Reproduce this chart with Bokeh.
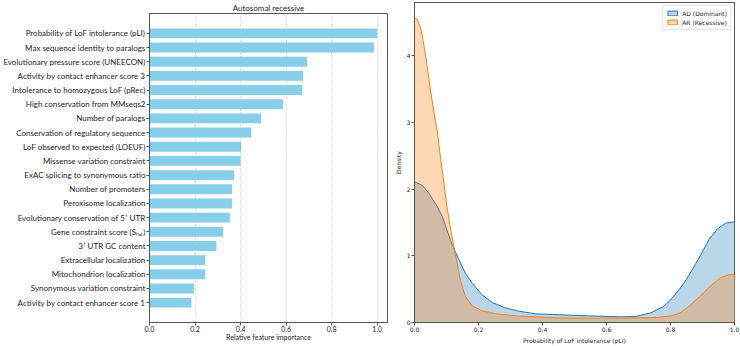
from bokeh.plotting import figure
from bokeh.models import (Range1d, FactorRange, FixedTicker, NumeralTickFormatter,
                          Legend, LegendItem)
from bokeh.core.templates import FILE
from bokeh.embed import file_html
from bokeh.resources import INLINE

# Feature importance for the autosomal recessive model (top to bottom)
features = [
    "Probability of LoF intolerance (pLI)",
    "Max sequence identity to paralogs",
    "Evolutionary pressure score (UNEECON)",
    "Activity by contact enhancer score 3",
    "Intolerance to homozygous LoF (pRec)",
    "High conservation from MMseqs2",
    "Number of paralogs",
    "Conservation of regulatory sequence",
    "LoF observed to expected (LOEUF)",
    "Missense variation constraint",
    "ExAC splicing to synonymous ratio",
    "Number of promoters",
    "Peroxisome localization",
    "Evolutionary conservation of 5\u2032 UTR",
    "Gene constraint score (S\u2095\u2091\u209c)",
    "3\u2032 UTR GC content",
    "Extracellular localization",
    "Mitochondrion localization",
    "Synonymous variation constraint",
    "Activity by contact enhancer score 1",
]
importance = [1.00, 0.985, 0.692, 0.675, 0.671, 0.586, 0.490, 0.447, 0.403, 0.400,
              0.371, 0.363, 0.362, 0.353, 0.324, 0.294, 0.245, 0.245, 0.195, 0.184]

importance_ticks = [0.0, 0.2, 0.4, 0.6, 0.8, 1.0]

# Density of pLI for dominant (AD) and recessive (AR) genes
pli_ad = [0.000, 0.024, 0.045, 0.071, 0.087, 0.097, 0.118, 0.139, 0.159, 0.180,
          0.210, 0.243, 0.284, 0.326, 0.378, 0.435, 0.540, 0.644, 0.690, 0.738,
          0.779, 0.810, 0.842, 0.868, 0.894, 0.920, 0.946, 0.972, 1.000]
density_ad = [2.11, 2.06, 1.94, 1.74, 1.59, 1.45, 1.16, 0.94, 0.74, 0.59,
              0.42, 0.30, 0.22, 0.17, 0.13, 0.12, 0.10, 0.085, 0.09, 0.145,
              0.24, 0.39, 0.59, 0.79, 1.01, 1.24, 1.40, 1.49, 1.51]

pli_ar = [0.000, 0.008, 0.019, 0.029, 0.040, 0.050, 0.060, 0.071, 0.081, 0.092,
          0.102, 0.112, 0.123, 0.133, 0.144, 0.159, 0.180, 0.210, 0.253, 0.316,
          0.378, 0.435, 0.540, 0.644, 0.748, 0.800, 0.831, 0.862, 0.894, 0.925,
          0.956, 0.982, 1.000]
density_ar = [4.57, 4.55, 4.42, 4.17, 3.83, 3.48, 3.18, 2.88, 2.48, 2.09,
              1.72, 1.42, 1.14, 0.89, 0.62, 0.39, 0.25, 0.18, 0.13, 0.10,
              0.085, 0.07, 0.065, 0.065, 0.075, 0.095, 0.145, 0.26, 0.40, 0.55,
              0.67, 0.72, 0.72]

density_ticks = [0, 1, 2, 3, 4]
pli_ticks = [0.0, 0.2, 0.4, 0.6, 0.8, 1.0]

FONT_L = "Lato"
FONT_R = "DejaVu Sans"
FRAME = "#555555"
TEXT = "#222222"

# ---------- left panel: horizontal bar chart ----------
left = figure(width=390, height=346,
              y_range=FactorRange(factors=list(reversed(features)),
                                  range_padding=0.09, range_padding_units="percent"),
              x_range=Range1d(0, 1.045),
              output_backend="svg", toolbar_location=None,
              min_border_left=149, min_border_right=3,
              min_border_top=13, min_border_bottom=24,
              title="Autosomal recessive")
left.hbar(y=features, left=0, right=importance, height=0.7,
          fill_color="#87CEEB", line_color=None)

left.title.align = "center"
left.title.text_font = FONT_L
left.title.text_font_size = "8px"
left.title.text_font_style = "normal"
left.title.text_color = TEXT
left.title.standoff = 1

left.outline_line_color = FRAME
left.outline_line_width = 1
left.ygrid.visible = False
left.xgrid.grid_line_color = "#c8c8c8"
left.xgrid.grid_line_dash = "2 2"
left.xgrid.grid_line_width = 0.8
left.xgrid.ticker = FixedTicker(ticks=importance_ticks)

left.xaxis.ticker = FixedTicker(ticks=importance_ticks)
left.xaxis.formatter = NumeralTickFormatter(format="0.0")
left.xaxis.axis_label = "Relative feature importance"

for ax in (left.xaxis[0], left.yaxis[0]):
    ax.axis_line_color = FRAME
    ax.major_tick_line_color = FRAME
    ax.major_tick_out = 3
    ax.major_tick_in = 0
    ax.minor_tick_line_color = None
    ax.major_label_text_font = FONT_L
    ax.major_label_text_color = TEXT
    ax.major_label_standoff = 1
    ax.axis_label_text_font = FONT_L
    ax.axis_label_text_font_size = "7px"
    ax.axis_label_text_font_style = "normal"
    ax.axis_label_text_color = TEXT
    ax.axis_label_standoff = 1
left.yaxis.major_label_text_font_size = "8px"
left.xaxis.major_label_text_font_size = "7px"
left.xaxis.major_label_standoff = 0
left.xaxis.axis_label_standoff = -2

# ---------- right panel: pLI density ----------
right = figure(width=350, height=346, title=None,
               x_range=Range1d(0, 1), y_range=Range1d(0, 4.8),
               output_backend="svg", toolbar_location=None,
               min_border_left=24, min_border_right=6,
               min_border_top=2, min_border_bottom=23)

c_ad, c_ar = "#1f77b4", "#ff7f0e"
# filled densities closed down to the baseline, outlined in the series colour
area_ad = right.patch(x=pli_ad + [1.0, 0.0], y=density_ad + [0.0, 0.0],
                      fill_color=c_ad, fill_alpha=0.3, line_color=c_ad, line_width=1)
area_ar = right.patch(x=pli_ar + [1.0, 0.0], y=density_ar + [0.0, 0.0],
                      fill_color=c_ar, fill_alpha=0.3, line_color=c_ar, line_width=1)

legend = Legend(items=[LegendItem(label="AD (Dominant)", renderers=[area_ad]),
                       LegendItem(label="AR (Recessive)", renderers=[area_ar])],
                location="top_right")
legend.label_text_font = FONT_R
legend.label_text_font_size = "6px"
legend.label_text_color = TEXT
legend.label_height = 8
legend.label_standoff = 4
legend.glyph_width = 12
legend.glyph_height = 6
legend.spacing = 1
legend.padding = 3
legend.margin = 3
legend.border_line_color = "#cccccc"
legend.background_fill_alpha = 0.8
right.add_layout(legend)

right.outline_line_color = FRAME
right.xgrid.visible = False
right.ygrid.visible = False
right.xaxis.ticker = FixedTicker(ticks=pli_ticks)
right.xaxis.formatter = NumeralTickFormatter(format="0.0")
right.yaxis.ticker = FixedTicker(ticks=density_ticks)
right.xaxis.axis_label = "Probability of LoF intolerance (pLI)"
right.yaxis.axis_label = "Density"
for ax in (right.xaxis[0], right.yaxis[0]):
    ax.axis_line_color = FRAME
    ax.major_tick_line_color = FRAME
    ax.major_tick_out = 3
    ax.major_tick_in = 0
    ax.minor_tick_line_color = None
    ax.major_label_text_font = FONT_R
    ax.major_label_text_font_size = "6px"
    ax.major_label_text_color = TEXT
    ax.major_label_standoff = 1
    ax.axis_label_text_font = FONT_R
    ax.axis_label_text_font_size = "6px"
    ax.axis_label_text_font_style = "normal"
    ax.axis_label_text_color = TEXT
    ax.axis_label_standoff = 2

# The two panels are separate roots placed side by side, so each keeps its
# own borders (a Bokeh row would line up their top borders).
page = FILE.environment.from_string(
    '{% extends "file.html" %}'
    '{% block postamble %}<style>'
    'body { display: flex !important; flex-direction: row; align-items: flex-start; }'
    '</style>{% endblock %}'
)
open("out.html", "w").write(file_html([left, right], INLINE, template=page))
